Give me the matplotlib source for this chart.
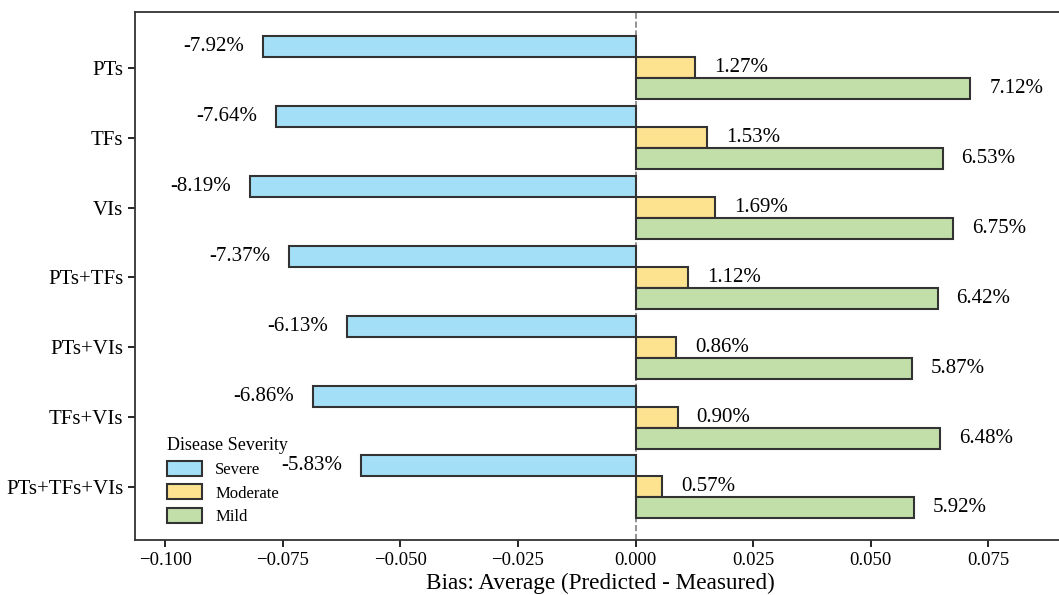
import matplotlib.pyplot as plt
import numpy as np

plt.rcParams['font.family'] = ['Liberation Serif', 'DejaVu Serif']

feature_sets = ['PTs', 'TFs', 'VIs', 'PTs+TFs', 'PTs+VIs', 'TFs+VIs', 'PTs+TFs+VIs']
severe = [-0.0792, -0.0764, -0.0819, -0.0737, -0.0613, -0.0686, -0.0583]
moderate = [0.0127, 0.0153, 0.0169, 0.0112, 0.0086, 0.0090, 0.0057]
mild = [0.0712, 0.0653, 0.0675, 0.0642, 0.0587, 0.0648, 0.0592]

levels = ['Severe', 'Moderate', 'Mild']
colors = ['#a3e0f7', '#fde28f', '#c2dfaa']
xticks = [-0.1, -0.075, -0.05, -0.025, 0, 0.025, 0.05, 0.075]

fig = plt.figure(figsize=(10.59, 5.95), dpi=100)
ax = fig.add_axes([135 / 1059, 1 - 540 / 595, 930 / 1059, 528 / 595])

y = np.arange(len(feature_sets))
h = 0.3
offsets = [-h, 0, h]
text_pad = 0.0040

for vals, off, col, name in zip([severe, moderate, mild], offsets, colors, levels):
    ax.barh(y + off, vals, height=h, color=col, edgecolor='#333333',
            linewidth=1.5, label=name)
    for yi, v in zip(y, vals):
        if v < 0:
            ax.text(v - text_pad, yi + off, f'{v * 100:.2f}%', ha='right',
                    va='center', fontsize=15)
        else:
            ax.text(v + text_pad, yi + off, f'{v * 100:.2f}%', ha='left',
                    va='center', fontsize=15)

ax.axvline(0, color='gray', linestyle='--', linewidth=1.2, zorder=0.5)

ax.set_yticks(y)
ax.set_yticklabels(feature_sets, fontsize=15)
ax.set_ylim(6.76, -0.8)
ax.set_xlim(-0.1064, 0.0913)
ax.set_xticks(xticks)
ax.set_xticklabels([f'{t:.3f}'.replace('-', '\u2212') for t in xticks])
ax.tick_params(axis='x', labelsize=13.5, length=5, width=1.2)
ax.tick_params(axis='y', length=5, width=1.2)
for s in ax.spines.values():
    s.set_linewidth(1.3)
    s.set_color('#333333')

ax.set_xlabel('Bias: Average (Predicted - Measured)', fontsize=16.7, labelpad=3)

leg = ax.legend(title='Disease Severity', loc='lower left', frameon=False,
                fontsize=12, title_fontsize=13, bbox_to_anchor=(0.018, 0.0),
                handlelength=2.1, handleheight=1.0, labelspacing=0.38,
                handletextpad=0.8)
leg._legend_box.align = 'left'

fig.savefig('out.png', dpi=100)
